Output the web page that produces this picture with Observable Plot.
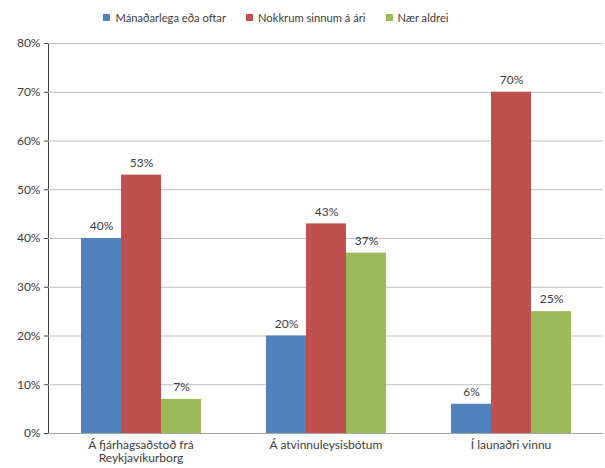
<!DOCTYPE html>
<html>
<head>
<meta charset="utf-8">
<script src="https://cdn.jsdelivr.net/npm/d3@7"></script>
<script src="https://cdn.jsdelivr.net/npm/@observablehq/plot@0.6"></script>
<style>
  html, body { margin: 0; padding: 0; background: #fff; }
  #wrap { width: 605px; font-family: Lato, "Open Sans", sans-serif; }
  #legend { height: 34px; display: flex; justify-content: center; align-items: center; gap: 20px; font-size: 11.2px; color: #404040; padding-right: 53px; box-sizing: border-box; }
  #legend span.item { display: flex; align-items: center; }
  #legend i { display: inline-block; width: 7px; height: 7px; margin-right: 5px; }
  svg { overflow: visible; }
</style>
</head>
<body>
<div id="wrap">
  <div id="legend"></div>
  <div id="chart"></div>
</div>
<script>
const categories = ["Á fjárhagsaðstoð frá Reykjavíkurborg", "Á atvinnuleysisbótum", "Í launaðri vinnu"];
const categoryLabels = ["Á fjárhagsaðstoð frá\nReykjavíkurborg", "Á atvinnuleysisbótum", "Í launaðri vinnu"];
const series = ["Mánaðarlega eða oftar", "Nokkrum sinnum á ári", "Nær aldrei"];
const colors = ["#4F81BD", "#C0504D", "#9BBB59"];
const monthly = [40, 20, 6];
const fewTimes = [53, 43, 70];
const almostNever = [7, 37, 25];
const yTicks = [0, 10, 20, 30, 40, 50, 60, 70, 80];

const valuesBySeries = [monthly, fewTimes, almostNever];
const data = [];
categories.forEach((c, ci) => {
  series.forEach((s, si) => {
    data.push({category: c, series: s, value: valuesBySeries[si][ci]});
  });
});
const labelRows = categories.map((c, i) => ({category: c, label: categoryLabels[i]}));

// legend
const legend = document.getElementById("legend");
series.forEach((s, i) => {
  const item = document.createElement("span");
  item.className = "item";
  const sw = document.createElement("i");
  sw.style.background = colors[i];
  item.appendChild(sw);
  item.appendChild(document.createTextNode(s));
  legend.appendChild(item);
});

const chart = Plot.plot({
  width: 605,
  height: 434,
  marginLeft: 47,
  marginRight: 2,
  marginTop: 9,
  marginBottom: 35,
  style: {fontFamily: "Lato, 'Open Sans', sans-serif", fontSize: "12px", color: "#404040", background: "#fff"},
  fx: {domain: categories, padding: 0, axis: null, label: null},
  x: {domain: series, paddingInner: 0, paddingOuter: 0.76, axis: null},
  y: {
    domain: [0, 80],
    ticks: yTicks,
    tickFormat: d => d + "%",
    tickSize: 4,
    tickPadding: 4,
    label: null,
    line: true
  },
  color: {domain: series, range: colors},
  marks: [
    Plot.ruleY(yTicks.filter(d => d > 0), {stroke: "#BFBFBF", strokeWidth: 1}),
    Plot.barY(data, {fx: "category", x: "series", y: "value", fill: "series"}),
    Plot.ruleY([0], {stroke: "#A6A6A6", strokeWidth: 1}),
    Plot.text(data, {fx: "category", x: "series", y: "value", text: d => d.value + "%", dy: -12, fill: "#404040", fontSize: 12}),
    Plot.text(labelRows, {fx: "category", text: "label", frameAnchor: "bottom", lineAnchor: "top", dy: 6, lineHeight: 1.12, fill: "#404040", fontSize: 12})
  ]
});
document.getElementById("chart").appendChild(chart);
</script>
</body>
</html>
